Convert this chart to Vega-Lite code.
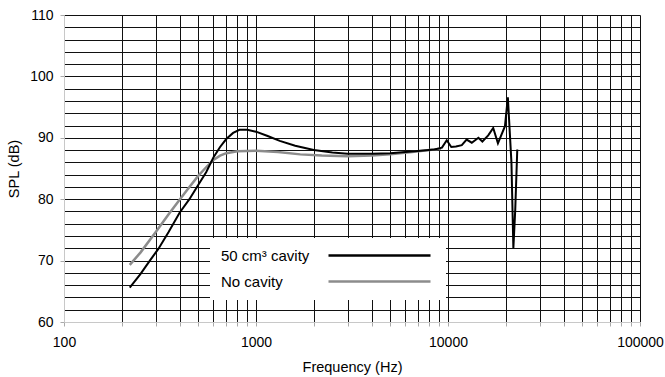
{
  "$schema": "https://vega.github.io/schema/vega-lite/v6.json",
  "autosize": {"type": "none"},
  "width": 576,
  "height": 307,
  "padding": {"left": 64, "top": 15, "right": 25, "bottom": 55},
  "background": "white",
  "config": {
    "view": {"stroke": null},
    "font": "Liberation Sans",
    "axis": {"labelFont": "Liberation Sans", "titleFont": "Liberation Sans", "labelColor": "#000", "titleColor": "#000", "titleFontWeight": "normal", "labelFontSize": 14, "titleFontSize": 14.5}
  },
  "data": {
    "values": [
      {"series": "No cavity", "freq": 220, "spl": 69.3},
      {"series": "No cavity", "freq": 250, "spl": 71.3},
      {"series": "No cavity", "freq": 300, "spl": 74.6},
      {"series": "No cavity", "freq": 350, "spl": 77.5},
      {"series": "No cavity", "freq": 400, "spl": 79.9},
      {"series": "No cavity", "freq": 450, "spl": 82.0},
      {"series": "No cavity", "freq": 500, "spl": 83.8},
      {"series": "No cavity", "freq": 550, "spl": 85.2},
      {"series": "No cavity", "freq": 600, "spl": 86.4},
      {"series": "No cavity", "freq": 650, "spl": 87.1},
      {"series": "No cavity", "freq": 700, "spl": 87.5},
      {"series": "No cavity", "freq": 800, "spl": 87.8},
      {"series": "No cavity", "freq": 1000, "spl": 87.9},
      {"series": "No cavity", "freq": 1300, "spl": 87.7},
      {"series": "No cavity", "freq": 1700, "spl": 87.3},
      {"series": "No cavity", "freq": 2200, "spl": 87.1},
      {"series": "No cavity", "freq": 3000, "spl": 87.0},
      {"series": "No cavity", "freq": 4000, "spl": 87.1},
      {"series": "No cavity", "freq": 5000, "spl": 87.3},
      {"series": "No cavity", "freq": 6500, "spl": 87.7},
      {"series": "No cavity", "freq": 8000, "spl": 88.0},
      {"series": "No cavity", "freq": 9200, "spl": 88.2},
      {"series": "50 cm³ cavity", "freq": 220, "spl": 65.6},
      {"series": "50 cm³ cavity", "freq": 250, "spl": 67.8},
      {"series": "50 cm³ cavity", "freq": 280, "spl": 70.0},
      {"series": "50 cm³ cavity", "freq": 310, "spl": 71.9},
      {"series": "50 cm³ cavity", "freq": 350, "spl": 74.6},
      {"series": "50 cm³ cavity", "freq": 400, "spl": 77.8},
      {"series": "50 cm³ cavity", "freq": 450, "spl": 80.0},
      {"series": "50 cm³ cavity", "freq": 500, "spl": 82.3},
      {"series": "50 cm³ cavity", "freq": 550, "spl": 84.4},
      {"series": "50 cm³ cavity", "freq": 600, "spl": 86.8},
      {"series": "50 cm³ cavity", "freq": 650, "spl": 88.5},
      {"series": "50 cm³ cavity", "freq": 700, "spl": 89.8},
      {"series": "50 cm³ cavity", "freq": 760, "spl": 90.8},
      {"series": "50 cm³ cavity", "freq": 820, "spl": 91.3},
      {"series": "50 cm³ cavity", "freq": 900, "spl": 91.3},
      {"series": "50 cm³ cavity", "freq": 1000, "spl": 91.0},
      {"series": "50 cm³ cavity", "freq": 1150, "spl": 90.3},
      {"series": "50 cm³ cavity", "freq": 1330, "spl": 89.5},
      {"series": "50 cm³ cavity", "freq": 1600, "spl": 88.7},
      {"series": "50 cm³ cavity", "freq": 2000, "spl": 88.0},
      {"series": "50 cm³ cavity", "freq": 2500, "spl": 87.6},
      {"series": "50 cm³ cavity", "freq": 3000, "spl": 87.4},
      {"series": "50 cm³ cavity", "freq": 4000, "spl": 87.4},
      {"series": "50 cm³ cavity", "freq": 5000, "spl": 87.5},
      {"series": "50 cm³ cavity", "freq": 6000, "spl": 87.7},
      {"series": "50 cm³ cavity", "freq": 7200, "spl": 87.9},
      {"series": "50 cm³ cavity", "freq": 8500, "spl": 88.1},
      {"series": "50 cm³ cavity", "freq": 9300, "spl": 88.4},
      {"series": "50 cm³ cavity", "freq": 9850, "spl": 89.6},
      {"series": "50 cm³ cavity", "freq": 10400, "spl": 88.5},
      {"series": "50 cm³ cavity", "freq": 11000, "spl": 88.6},
      {"series": "50 cm³ cavity", "freq": 11800, "spl": 88.8},
      {"series": "50 cm³ cavity", "freq": 12500, "spl": 89.7},
      {"series": "50 cm³ cavity", "freq": 13300, "spl": 89.2},
      {"series": "50 cm³ cavity", "freq": 14400, "spl": 90.0},
      {"series": "50 cm³ cavity", "freq": 15100, "spl": 89.4},
      {"series": "50 cm³ cavity", "freq": 16200, "spl": 90.4},
      {"series": "50 cm³ cavity", "freq": 17200, "spl": 91.6},
      {"series": "50 cm³ cavity", "freq": 18200, "spl": 89.1},
      {"series": "50 cm³ cavity", "freq": 19800, "spl": 91.9},
      {"series": "50 cm³ cavity", "freq": 20500, "spl": 96.6},
      {"series": "50 cm³ cavity", "freq": 20800, "spl": 93.0},
      {"series": "50 cm³ cavity", "freq": 21400, "spl": 86.0},
      {"series": "50 cm³ cavity", "freq": 21900, "spl": 72.0},
      {"series": "50 cm³ cavity", "freq": 22400, "spl": 78.3},
      {"series": "50 cm³ cavity", "freq": 22950, "spl": 88.1}
    ]
  },
  "encoding": {
    "x": {
      "field": "freq", "type": "quantitative",
      "scale": {"type": "log", "domain": [100, 100000], "nice": false},
      "axis": {
        "title": "Frequency (Hz)",
        "values": [100, 200, 300, 400, 500, 600, 700, 800, 900, 1000, 2000, 3000, 4000, 5000, 6000, 7000, 8000, 9000, 10000, 20000, 30000, 40000, 50000, 60000, 70000, 80000, 90000, 100000],
        "labelExpr": "(datum.value==100||datum.value==1000||datum.value==10000||datum.value==100000) ? format(datum.value,'d') : ''",
        "labelOverlap": false,
        "labelFlush": false,
        "grid": true,
        "gridColor": {"condition": {"test": "datum.value==100", "value": "#c8c8c8"}, "value": "#111111"},
        "gridWidth": 1,
        "gridOpacity": 1,
        "domainColor": "#c8c8c8",
        "ticks": true,
        "tickColor": "#aaaaaa",
        "tickSize": 4,
        "labelPadding": 9,
        "titlePadding": 11
      }
    },
    "y": {
      "field": "spl", "type": "quantitative",
      "scale": {"domain": [60, 110], "nice": false},
      "axis": {
        "title": "SPL (dB)",
        "values": [60, 62, 64, 66, 68, 70, 72, 74, 76, 78, 80, 82, 84, 86, 88, 90, 92, 94, 96, 98, 100, 102, 104, 106, 108, 110],
        "labelExpr": "datum.value % 10 === 0 ? datum.label : ''",
        "labelOverlap": false,
        "grid": true,
        "gridColor": {"condition": {"test": "datum.value==60", "value": "#c8c8c8"}, "value": "#111111"},
        "gridWidth": 1,
        "gridOpacity": 1,
        "domainColor": "#c8c8c8",
        "tickColor": {"condition": {"test": "datum.value % 10 === 0", "value": "#aaaaaa"}, "value": "rgba(0,0,0,0)"},
        "tickSize": 4,
        "labelPadding": 7,
        "titlePadding": 8
      }
    },
    "color": {
      "field": "series", "type": "nominal",
      "scale": {"domain": ["50 cm³ cavity", "No cavity"], "range": ["#000000", "#8c8c8c"]},
      "legend": {
        "title": null,
        "orient": "none",
        "legendX": 146,
        "legendY": 223,
        "fillColor": "white",
        "strokeColor": null,
        "padding": 10,
        "symbolType": "M101,0L203,0",
        "symbolSize": 4,
        "symbolStrokeWidth": 2.5,
        "labelFont": "Liberation Sans",
        "labelFontSize": 15,
        "labelColor": "#000",
        "labelOffset": -14,
        "labelLimit": 300,
        "rowPadding": 10
      }
    }
  },
  "layer": [
    {
      "transform": [{"filter": "datum.series === 'No cavity'"}],
      "mark": {"type": "line", "strokeWidth": 2.5}
    },
    {
      "transform": [{"filter": "datum.series !== 'No cavity'"}],
      "mark": {"type": "line", "strokeWidth": 2}
    }
  ]
}
